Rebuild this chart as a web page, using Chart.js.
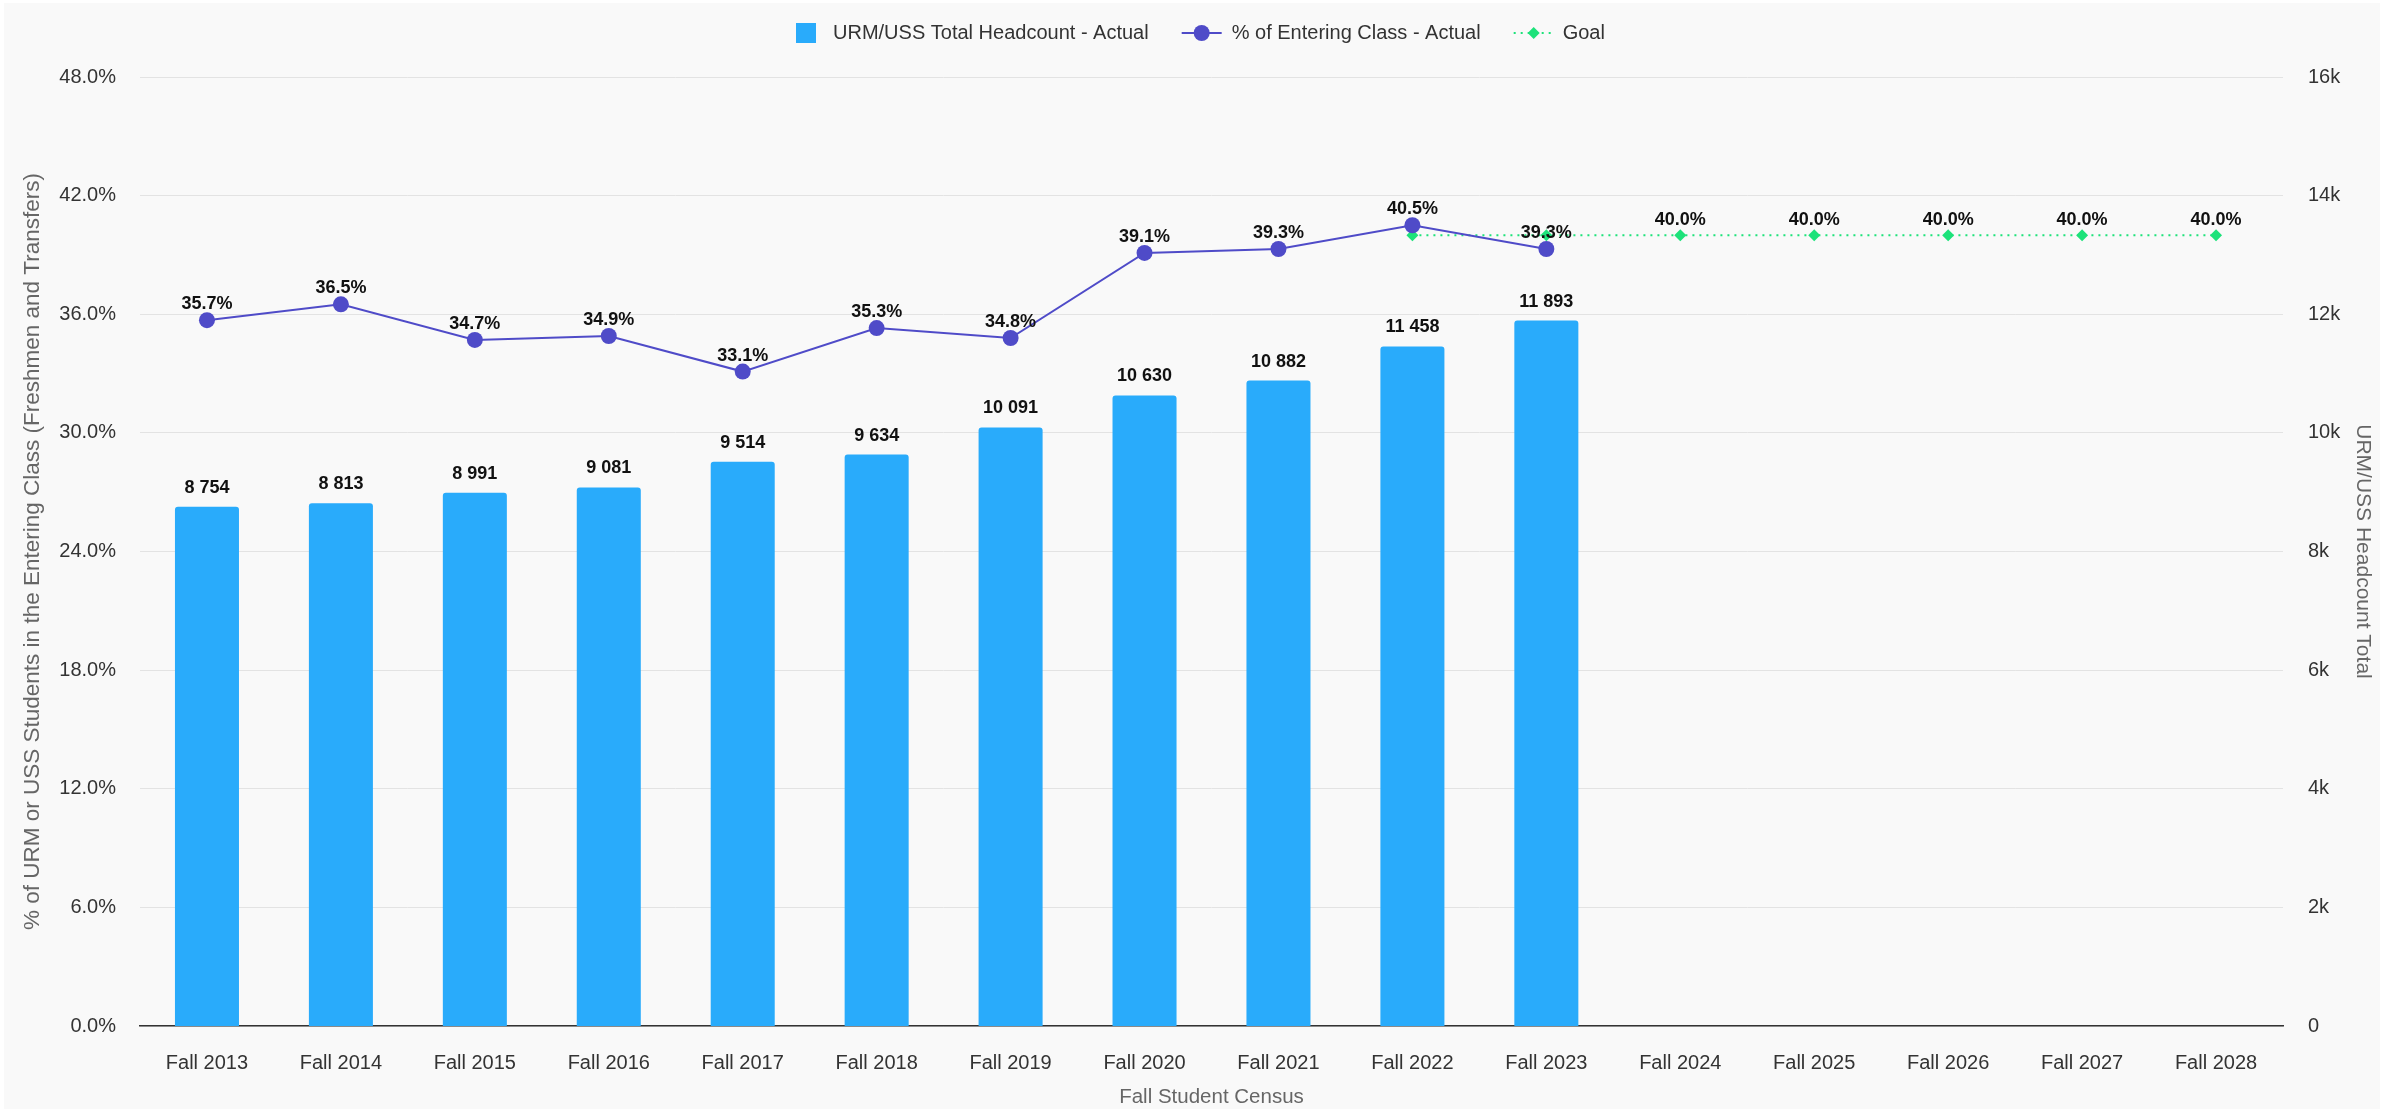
<!DOCTYPE html>
<html><head><meta charset="utf-8">
<script src="https://cdn.jsdelivr.net/npm/chart.js@4.4.1/dist/chart.umd.min.js"></script>
<style>
html,body{margin:0;padding:0;background:#fff;width:2392px;height:1109px;overflow:hidden}
#wrap{position:absolute;left:4px;top:3px;width:2376px;height:1106px;background:#f9f9f9}
canvas{display:block}
</style></head><body>
<div id="wrap"><canvas id="c" width="2376" height="1106"></canvas></div>
<script>
const categories = ['Fall 2013','Fall 2014','Fall 2015','Fall 2016','Fall 2017','Fall 2018','Fall 2019','Fall 2020','Fall 2021','Fall 2022','Fall 2023','Fall 2024','Fall 2025','Fall 2026','Fall 2027','Fall 2028'];
const headcountActual = [8754, 8813, 8991, 9081, 9514, 9634, 10091, 10630, 10882, 11458, 11893, null, null, null, null, null];
const pctActual = [35.7, 36.5, 34.7, 34.9, 33.1, 35.3, 34.8, 39.1, 39.3, 40.5, 39.3, null, null, null, null, null];
const goalPct = [null, null, null, null, null, null, null, null, null, 40.0, 40.0, 40.0, 40.0, 40.0, 40.0, 40.0];
const pctTicks = [0, 6, 12, 18, 24, 30, 36, 42, 48];
const headcountTicks = [0, 2000, 4000, 6000, 8000, 10000, 12000, 14000, 16000];
const seriesNames = ['URM/USS Total Headcount - Actual', '% of Entering Class - Actual', 'Goal'];
const axisTitles = ['% of URM or USS Students in the Entering Class (Freshmen and Transfers)', 'URM/USS Headcount Total', 'Fall Student Census'];

const FONT = '"Liberation Sans", Arial, Helvetica, sans-serif';
const BAR_C = '#29abfb', LINE_C = '#4f4bc8', GOAL_C = '#1de27a';

function fmtInt(v){ return String(v).replace(/\B(?=(\d{3})+(?!\d))/g, ' '); }

const labelPlugin = {
  id: 'valueLabels',
  afterDatasetsDraw(chart){
    const ctx = chart.ctx;
    ctx.save();
    ctx.font = 'bold 18px ' + FONT;
    ctx.fillStyle = '#111';
    ctx.textAlign = 'center';
    ctx.textBaseline = 'middle';
    chart.getDatasetMeta(0).data.forEach((el, i) => {
      const v = headcountActual[i];
      if (v != null) ctx.fillText(fmtInt(v), el.x, el.y - 19);
    });
    chart.getDatasetMeta(1).data.forEach((el, i) => {
      const v = pctActual[i];
      if (v != null) ctx.fillText(v.toFixed(1) + '%', el.x, el.y - 16);
    });
    chart.getDatasetMeta(2).data.forEach((el, i) => {
      const v = goalPct[i];
      if (v != null && pctActual[i] == null) ctx.fillText(v.toFixed(1) + '%', el.x, el.y - 15);
    });
    ctx.restore();
  }
};

const legendPlugin = {
  id: 'customLegend',
  afterDraw(chart){
    const ctx = chart.ctx;
    const y = 30;
    ctx.save();
    ctx.font = '20px ' + FONT;
    ctx.textBaseline = 'middle';
    ctx.textAlign = 'left';
    let x = 792;
    ctx.fillStyle = BAR_C;
    ctx.fillRect(x, y - 10, 20, 20);
    x += 37;
    ctx.fillStyle = '#333';
    ctx.fillText(seriesNames[0], x, y);
    x += ctx.measureText(seriesNames[0]).width + 33;
    ctx.strokeStyle = LINE_C; ctx.lineWidth = 2;
    ctx.beginPath(); ctx.moveTo(x, y); ctx.lineTo(x + 40, y); ctx.stroke();
    ctx.fillStyle = LINE_C;
    ctx.beginPath(); ctx.arc(x + 20, y, 8, 0, Math.PI * 2); ctx.fill();
    x += 50;
    ctx.fillStyle = '#333';
    ctx.fillText(seriesNames[1], x, y);
    x += ctx.measureText(seriesNames[1]).width + 33;
    ctx.strokeStyle = GOAL_C; ctx.lineWidth = 2; ctx.setLineDash([2, 5]);
    ctx.beginPath(); ctx.moveTo(x, y); ctx.lineTo(x + 41, y); ctx.stroke();
    ctx.setLineDash([]);
    ctx.fillStyle = GOAL_C;
    const cx = x + 20;
    ctx.beginPath(); ctx.moveTo(cx, y - 6); ctx.lineTo(cx + 6, y); ctx.lineTo(cx, y + 6); ctx.lineTo(cx - 6, y); ctx.closePath(); ctx.fill();
    x += 49;
    ctx.fillStyle = '#333';
    ctx.fillText(seriesNames[2], x, y);
    ctx.restore();
  }
};

new Chart(document.getElementById('c'), {
  data: {
    labels: categories,
    datasets: [
      {
        type: 'bar', label: seriesNames[0], data: headcountActual, yAxisID: 'yR',
        backgroundColor: BAR_C, borderRadius: 3, borderSkipped: 'start',
        categoryPercentage: 1.0, barPercentage: 0.478, order: 3
      },
      {
        type: 'line', label: seriesNames[1], data: pctActual, yAxisID: 'yL',
        borderColor: LINE_C, backgroundColor: LINE_C, borderWidth: 2,
        pointRadius: 8, pointHoverRadius: 8, pointBorderWidth: 0, pointBackgroundColor: LINE_C,
        tension: 0, fill: false, order: 1
      },
      {
        type: 'line', label: seriesNames[2], data: goalPct, yAxisID: 'yL',
        borderColor: GOAL_C, backgroundColor: GOAL_C, borderWidth: 2, borderDash: [2, 5],
        pointStyle: 'rectRot', pointRadius: 6, pointHoverRadius: 6, pointBorderWidth: 0, pointBackgroundColor: GOAL_C,
        tension: 0, fill: false, order: 2
      }
    ]
  },
  options: {
    responsive: false,
    animation: false,
    devicePixelRatio: 1,
    layout: { padding: { top: 74, left: 0, right: 0, bottom: 0 } },
    plugins: { legend: { display: false }, tooltip: { enabled: false } },
    scales: {
      x: {
        type: 'category',
        grid: { display: false, drawTicks: false },
        border: { display: true, color: '#333', width: 1.5 },
        ticks: { color: '#333', font: { family: FONT, size: 20 }, padding: 25, maxRotation: 0, autoSkip: false },
        title: { display: true, text: axisTitles[2], color: '#666', font: { family: FONT, size: 20.5, lineHeight: 1.1 }, padding: { top: 0, bottom: 0 } },
        afterFit(s){ s.height = 83; }
      },
      yL: {
        type: 'linear', position: 'left', min: 0, max: 48,
        grid: { color: '#e3e3e3', lineWidth: 1, drawTicks: false },
        border: { display: false },
        afterBuildTicks(s){ s.ticks = pctTicks.map(v => ({ value: v })); },
        ticks: { color: '#333', font: { family: FONT, size: 20 }, padding: 24, callback: v => Number(v).toFixed(1) + '%' },
        title: { display: true, text: axisTitles[0], color: '#666', font: { family: FONT, size: 22.5 }, padding: { top: 15.5, bottom: 0 } },
        afterFit(s){ s.width = 136; }
      },
      yR: {
        type: 'linear', position: 'right', min: 0, max: 16000,
        grid: { display: false, drawTicks: false },
        border: { display: false },
        afterBuildTicks(s){ s.ticks = headcountTicks.map(v => ({ value: v })); },
        ticks: { color: '#333', font: { family: FONT, size: 20 }, padding: 25, callback: v => v === 0 ? '0' : (v / 1000) + 'k' },
        title: { display: true, text: axisTitles[1], color: '#666', font: { family: FONT, size: 21 }, padding: { top: 4.5, bottom: 0 } },
        afterFit(s){ s.width = 97; }
      }
    }
  },
  plugins: [labelPlugin, legendPlugin]
});
</script>
</body></html>
